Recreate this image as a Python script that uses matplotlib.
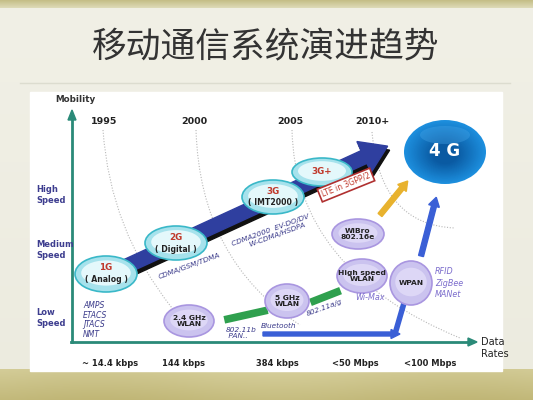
import matplotlib
matplotlib.use("Agg")
import matplotlib.pyplot as plt
import numpy as np
from matplotlib.colors import LinearSegmentedColormap
from matplotlib.patches import Ellipse, FancyArrow, Rectangle, Polygon, PathPatch
from matplotlib.path import Path

plt.rcParams['font.family'] = ['DejaVu Sans', 'Noto Sans CJK SC']

title = '移动通信系统演进趋势'

# axis labels
years = ['1995', '2000', '2005', '2010+']
year_x = [104, 194, 290, 372]
rate_labels = ['~ 14.4 kbps', '144 kbps', '384 kbps', '<50 Mbps', '<100 Mbps']
rate_x = [110, 183, 277, 355, 430]
speed_labels = ['High\nSpeed', 'Medium\nSpeed', 'Low\nSpeed']
speed_y = [195, 250, 318]

# cellular generations (cyan bubbles)
gen_top = ['1G', '2G', '3G', '3G+']
gen_sub = ['( Analog )', '( Digital )', '( IMT2000 )', '']
gen_x = [106, 176, 273, 322]
gen_y = [274, 243, 197, 172]
gen_w = [62, 62, 62, 60]
gen_h = [36, 34, 34, 28]

# wireless data techs (purple bubbles)
wl_names = ['2.4 GHz\nWLAN', '5 GHz\nWLAN', 'High speed\nWLAN', 'WiBro\n802.16e', 'WPAN']
wl_x = [189, 287, 362, 358, 411]
wl_y = [321, 301, 276, 234, 283]
wl_w = [50, 44, 50, 52, 42]
wl_h = [32, 34, 34, 30, 44]

# dotted year arcs: start, control, end
arc_pts = [
    [(103, 130), (110, 230), (172, 308)],
    [(196, 130), (200, 260), (300, 325)],
    [(292, 130), (295, 270), (460, 338)],
    [(372, 132), (380, 225), (455, 228)],
]

fig = plt.figure(figsize=(5.33, 4), dpi=100)
ax = fig.add_axes([0, 0, 1, 1])
ax.set_xlim(0, 533)
ax.set_ylim(400, 0)
ax.axis('off')

# page background
bg = np.linspace(0, 1, 200)[:, None] * np.ones((1, 10))
ax.imshow(bg, extent=(0, 533, 400, 0), aspect='auto', zorder=0,
          cmap=LinearSegmentedColormap.from_list('bg', ['#f1f0e6', '#ecebdf']))
top = np.linspace(0, 1, 20)[:, None] * np.ones((1, 10))
ax.imshow(top, extent=(0, 533, 8, 0), aspect='auto', zorder=1,
          cmap=LinearSegmentedColormap.from_list('tp', ['#c4bd86', '#dedbb8']))
band = np.linspace(0, 1, 40)[:, None] * np.ones((1, 60))
band = band * 0.6 + 0.4 * (0.5 + 0.5 * np.sin(np.linspace(0, 9, 60)))[None, :] * 0.5
ax.imshow(band, extent=(0, 533, 400, 369), aspect='auto', zorder=1,
          cmap=LinearSegmentedColormap.from_list('st', ['#d6cf9c', '#c0b676']))
ax.plot([20, 510], [83, 83], color='#dcdccf', lw=1, zorder=1)

ax.text(266, 48, title, ha='center', va='center', fontsize=25, color='#333333',
        family=['Noto Sans CJK SC'], zorder=2)

# white panel
ax.add_patch(Rectangle((30, 92), 472, 279, color='white', zorder=2))

# axes arrows
teal = '#2a8a78'
ax.plot([72, 72], [342, 118], color=teal, lw=2, zorder=3)
ax.add_patch(Polygon([(68, 120), (76, 120), (72, 110)], color=teal, zorder=3))
ax.plot([71, 470], [342, 342], color=teal, lw=2, zorder=3)
ax.add_patch(Polygon([(468, 338), (468, 346), (477, 342)], color=teal, zorder=3))
ax.text(55, 99, 'Mobility', fontsize=6.3, weight='bold', color='#333333', va='center', zorder=4)
ax.text(481, 348, 'Data\nRates', fontsize=7, color='#222222', va='center', linespacing=1.2, zorder=4)

for lbl, y in zip(speed_labels, speed_y):
    ax.text(36, y, lbl, fontsize=6, weight='bold', color='#3d3d8f', va='center',
            linespacing=1.3, zorder=4)
for lbl, x in zip(years, year_x):
    ax.text(x, 121, lbl, fontsize=6.8, weight='bold', color='#222222', ha='center',
            va='center', zorder=4)
for lbl, x in zip(rate_labels, rate_x):
    ax.text(x, 364, lbl, fontsize=6, weight='bold', color='#222222', ha='center',
            va='center', zorder=4)

# dotted year arcs
for p in arc_pts:
    path = Path(p, [Path.MOVETO, Path.CURVE3, Path.CURVE3])
    ax.add_patch(PathPatch(path, fill=False, ls=(0, (1, 1.5)), lw=0.8, ec='#b8b8b8', zorder=3))

# main evolution arrow
ax.add_patch(FancyArrow(96, 285, 270, -124, width=14, head_width=34, head_length=26,
                        length_includes_head=False, color='#111111', zorder=4))
ax.add_patch(FancyArrow(94, 281, 270, -124, width=14, head_width=34, head_length=26,
                        length_includes_head=False, color='#2f3f9f', zorder=4))

# cyan generation bubbles
for t, s, x, y, w, h in zip(gen_top, gen_sub, gen_x, gen_y, gen_w, gen_h):
    ax.add_patch(Ellipse((x, y), w, h, fc='#a6e2ec', ec='#3ab8c8', lw=1.2, zorder=5))
    ax.add_patch(Ellipse((x, y - 1), w * 0.8, h * 0.7, fc='#e4f8fb', ec='none', zorder=5))
    if s:
        ax.text(x, y - 6, t, fontsize=6.3, weight='bold', color='#c0392b', ha='center',
                va='center', zorder=6)
        ax.text(x, y + 6, s, fontsize=5.6, weight='bold', color='#222222', ha='center',
                va='center', zorder=6)
    else:
        ax.text(x, y, t, fontsize=6.3, weight='bold', color='#c0392b', ha='center',
                va='center', zorder=6)

# generation tech notes
note_c = '#3a3a8a'
ax.text(83, 301, 'AMPS\nETACS\nJTACS\nNMT', fontsize=5.5, style='italic', color=note_c,
        va='top', linespacing=1.1, zorder=6)
ax.text(189, 266, 'CDMA/GSM/TDMA', fontsize=5.3, style='italic', color=note_c,
        ha='center', va='center', rotation=20, zorder=6)
ax.text(272, 233, 'CDMA2000  EV-DO/DV\n    W-CDMA/HSDPA', fontsize=5.3, style='italic',
        color=note_c, ha='center', va='center', rotation=20, zorder=6)
ax.text(346, 185, 'LTE in 3GPP/2', fontsize=5.5, color='#c0392b', ha='center', va='center',
        rotation=22, zorder=6,
        bbox=dict(boxstyle='square,pad=0.3', fc='white', ec='#b03030', lw=1.2))

# 4G bubble
ring_cmap = LinearSegmentedColormap.from_list('g4', ['#1d8fde', '#0a5aa2'])
for k in np.linspace(1, 0.3, 25):
    ax.add_patch(Ellipse((445, 152 + (1 - k) * 3), 82 * k, 64 * k,
                         fc=ring_cmap((1 - k) / 0.7), ec='none', zorder=5))
ax.add_patch(Ellipse((445, 135), 50, 18, fc='#4aa8ea', ec='none', alpha=0.35, zorder=5))
ax.text(445, 151, '4 G', fontsize=12, color='white', weight='bold', ha='center', va='center', zorder=6)

# yellow and blue arrows toward 4G
ax.add_patch(FancyArrow(380, 215, 22, -27, width=5, head_width=11, head_length=9,
                        color='#e8b22e', zorder=5))
ax.add_patch(FancyArrow(421, 256, 13, -50, width=5, head_width=11, head_length=9,
                        color='#3a5fd6', zorder=5))

# low-speed path
ax.add_patch(FancyArrow(263, 334, 128, 0, width=4, head_width=9, head_length=9,
                        color='#3a5fd6', zorder=4))
ax.plot([395, 404], [334, 303], color='#3a5fd6', lw=4, zorder=4, solid_capstyle='butt')
ax.plot([228, 264], [319, 311], color='#2fa04e', lw=5.5, zorder=4)
ax.plot([314, 337], [301, 292], color='#2fa04e', lw=5.5, zorder=4)

# purple bubbles
for n, x, y, w, h in zip(wl_names, wl_x, wl_y, wl_w, wl_h):
    ax.add_patch(Ellipse((x, y), w, h, fc='#cbc3ef', ec='#a996e0', lw=1.2, zorder=5))
    ax.add_patch(Ellipse((x, y - 1), w * 0.75, h * 0.65, fc='#ddd7f6', ec='none', zorder=5))
    ax.text(x, y, n, fontsize=5.4, weight='bold', color='#222222', ha='center', va='center',
            linespacing=1.1, zorder=6)

ax.text(226, 327, '802.11b\n PAN..', fontsize=5.3, style='italic', color=note_c,
        va='top', linespacing=1.1, zorder=6)
ax.text(261, 326, 'Bluetooth', fontsize=5.3, style='italic', color=note_c, va='center', zorder=6)
ax.text(324, 308, '802.11a/g', fontsize=5.3, style='italic', color=note_c,
        ha='center', va='center', rotation=20, zorder=6)
ax.text(355, 297, 'Wi-Max', fontsize=5.8, style='italic', color='#7b6ccc', va='center', zorder=6)
ax.text(435, 283, 'RFID\nZigBee\nMANet', fontsize=5.8, style='italic', color='#7b6ccc',
        va='center', linespacing=1.3, zorder=6)

fig.savefig('out.png', dpi=100)
